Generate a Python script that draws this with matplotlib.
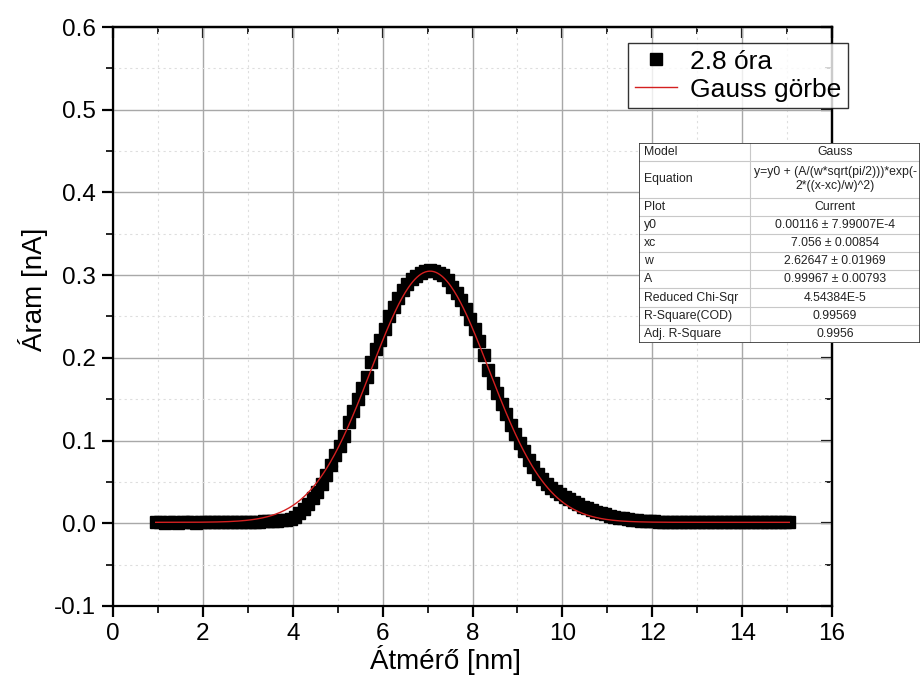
import numpy as np
import matplotlib
matplotlib.use("Agg")
import matplotlib.pyplot as plt
from matplotlib.ticker import MultipleLocator, FormatStrFormatter
from matplotlib.patches import Rectangle

plt.rcParams["font.family"] = ["Liberation Sans", "DejaVu Sans"]
plt.rcParams["axes.unicode_minus"] = False

# Measured particle size distribution (diameter in nm, current in nA)
x_start = 0.95
x_step = 0.1
current = [
    0.0010, 0.0012, 0.0008, 0.0011, 0.0013, 0.0009, 0.0010, 0.0012, 0.0011, 0.0009,
    0.0010, 0.0012, 0.0013, 0.0010, 0.0011, 0.0012, 0.0014, 0.0013, 0.0015, 0.0014, 0.0016,
    0.0017, 0.0018, 0.0020, 0.0022, 0.0025, 0.0028, 0.0031, 0.0035, 0.0040, 0.0048,
    0.0070, 0.0120, 0.0170, 0.0230, 0.0300, 0.0380, 0.0470, 0.0580, 0.0700, 0.0820,
    0.0930, 0.1050, 0.1220, 0.1360, 0.1500, 0.1630, 0.1770, 0.1950, 0.2110, 0.2220,
    0.2350, 0.2500, 0.2620, 0.2720, 0.2820, 0.2890, 0.2950, 0.2990, 0.3030, 0.3050,
    0.3060, 0.3050, 0.3030, 0.3000, 0.2940, 0.2860, 0.2780, 0.2700, 0.2590, 0.2470,
    0.2350, 0.2200, 0.2040, 0.1850, 0.1690, 0.1570, 0.1440, 0.1320, 0.1190, 0.1080,
    0.0970, 0.0870, 0.0770, 0.0680, 0.0600, 0.0540, 0.0480, 0.0430, 0.0390, 0.0350,
    0.0320, 0.0290, 0.0260, 0.0230, 0.0200, 0.0180, 0.0160, 0.0140, 0.0120, 0.0110,
    0.0090, 0.0078, 0.0068, 0.0058, 0.0050, 0.0043, 0.0037, 0.0032, 0.0028, 0.0025,
    0.0022, 0.0020, 0.0019, 0.0018, 0.0017, 0.0016, 0.0016, 0.0015, 0.0015, 0.0014,
    0.0014, 0.0013, 0.0013, 0.0012, 0.0013, 0.0012, 0.0012, 0.0011, 0.0012, 0.0011,
    0.0011, 0.0012, 0.0010, 0.0011, 0.0012, 0.0010, 0.0011, 0.0010, 0.0012, 0.0011,
    0.0010,
]
diameter = x_start + x_step * np.arange(len(current))

# Gauss fit parameters
fit_y0, fit_y0_err = 0.00116, 7.99007e-4
fit_xc, fit_xc_err = 7.056, 0.00854
fit_w, fit_w_err = 2.62647, 0.01969
fit_A, fit_A_err = 0.99967, 0.00793
chi_sqr = "4.54384E-5"
r_square = "0.99569"
adj_r_square = "0.9956"

x_ticks = [0, 2, 4, 6, 8, 10, 12, 14, 16]
y_ticks = [-0.1, 0.0, 0.1, 0.2, 0.3, 0.4, 0.5, 0.6]


def gauss(x):
    return fit_y0 + (fit_A / (fit_w * np.sqrt(np.pi / 2))) * np.exp(-2 * ((x - fit_xc) / fit_w) ** 2)


W, H = 921, 699
fig = plt.figure(figsize=(W / 100, H / 100), dpi=100)
ax = fig.add_axes([113 / W, 1 - 606 / H, (832 - 113) / W, (606 - 27) / H])

xf = np.linspace(diameter[0], diameter[-1], 600)
ax.plot(diameter, current, linestyle="none", marker="s", markersize=9,
        color="black", zorder=3, label="2.8 óra")
ax.plot(xf, gauss(xf), color="#d42020", linewidth=1.0, zorder=4, label="Gauss görbe")

ax.set_xlim(0, 16)
ax.set_ylim(-0.1, 0.6)
ax.set_xticks(x_ticks)
ax.set_yticks(y_ticks)
ax.xaxis.set_major_formatter(FormatStrFormatter("%d"))
ax.yaxis.set_major_formatter(FormatStrFormatter("%.1f"))
ax.xaxis.set_minor_locator(MultipleLocator(1))
ax.yaxis.set_minor_locator(MultipleLocator(0.05))

ax.grid(which="major", color="#a8a8a8", linewidth=1.0, linestyle="-")
ax.grid(which="minor", color="#dedede", linewidth=0.8, linestyle=(0, (2, 3)))
ax.set_axisbelow(True)

for sp in ax.spines.values():
    sp.set_linewidth(1.6)
    sp.set_color("black")

ax.tick_params(which="major", direction="out", length=8, width=1.6, labelsize=17.5,
               pad=4, top=False, right=False)
ax.tick_params(which="minor", direction="out", length=5, width=1.2, top=False, right=False)

# inward ticks on the top and right borders
axt = ax.secondary_xaxis("top")
axt.set_xticks(x_ticks)
axt.xaxis.set_minor_locator(MultipleLocator(1))
axt.tick_params(which="major", direction="in", length=8, width=1.6, labeltop=False)
axt.tick_params(which="minor", direction="in", length=5, width=1.2)
axr = ax.secondary_yaxis("right")
axr.set_yticks(y_ticks)
axr.yaxis.set_minor_locator(MultipleLocator(0.05))
axr.tick_params(which="major", direction="in", length=8, width=1.6, labelright=False)
axr.tick_params(which="minor", direction="in", length=5, width=1.2)
axt.spines["top"].set_linewidth(1.6)
axr.spines["right"].set_linewidth(1.6)

fig.text(445 / W, 1 - 660 / H, "Átmérő [nm]", fontsize=20, ha="center", va="center")
fig.text(33 / W, 1 - 289 / H, "Áram [nA]", fontsize=20, ha="center", va="center",
         rotation=90)

leg = ax.legend(loc="upper right", bbox_to_anchor=(848 / W, 1 - 43 / H),
                bbox_transform=fig.transFigure, borderaxespad=0, fontsize=19,
                frameon=True, fancybox=False, handlelength=1.6, handletextpad=0.5,
                labelspacing=0.15, borderpad=0.25, markerscale=1.0)
leg.get_frame().set_edgecolor("black")
leg.get_frame().set_linewidth(1.0)
leg.set_zorder(10)

# Fit result table
tx0, tx1, tmid = 639, 920, 750
ty0, ty1 = 143, 343
tab = fig.add_axes([tx0 / W, 1 - ty1 / H, (tx1 - tx0) / W, (ty1 - ty0) / H])
tab.set_xlim(tx0, tx1)
tab.set_ylim(ty1, ty0)
tab.axis("off")
tab.add_patch(Rectangle((tx0, ty0), tx1 - tx0, ty1 - ty0, facecolor="white",
                        edgecolor="none", zorder=0))

rows = [
    ("Model", ["Gauss"], 1),
    ("Equation", ["y=y0 + (A/(w*sqrt(pi/2)))*exp(-", "2*((x-xc)/w)^2)"], 2),
    ("Plot", ["Current"], 1),
    ("y0", [f"{fit_y0} ± {fit_y0_err:.5E}".replace("E-04", "E-4")], 1),
    ("xc", [f"{fit_xc} ± {fit_xc_err}"], 1),
    ("w", [f"{fit_w} ± {fit_w_err}"], 1),
    ("A", [f"{fit_A} ± {fit_A_err}"], 1),
    ("Reduced Chi-Sqr", [chi_sqr], 1),
    ("R-Square(COD)", [r_square], 1),
    ("Adj. R-Square", [adj_r_square], 1),
]
units = sum(r[2] for r in rows)
unit_h = (ty1 - ty0) / units
y = ty0
for i, (name, vals, n) in enumerate(rows):
    h = n * unit_h
    yc = y + h / 2
    tab.text(tx0 + 5, yc, name, ha="left", va="center", fontsize=8.8, color="#222222")
    if len(vals) == 1:
        tab.text(tmid + (tx1 - tmid) / 2, yc, vals[0], ha="center", va="center",
                 fontsize=8.8, color="#222222")
    else:
        tab.text(tmid + (tx1 - tmid) / 2, yc - unit_h * 0.38, vals[0], ha="center",
                 va="center", fontsize=8.8, color="#222222")
        tab.text(tmid + (tx1 - tmid) / 2, yc + unit_h * 0.38, vals[1], ha="center",
                 va="center", fontsize=8.8, color="#222222")
    if i > 0:
        tab.plot([tx0, tx1], [y, y], color="#c8c8c8", linewidth=0.8)
    y += h
tab.plot([tmid, tmid], [ty0, ty1], color="#c8c8c8", linewidth=0.8)
tab.add_patch(Rectangle((tx0, ty0), tx1 - tx0, ty1 - ty0, facecolor="none",
                        edgecolor="#333333", linewidth=1.2, zorder=5))

fig.savefig("out.png", dpi=100)
